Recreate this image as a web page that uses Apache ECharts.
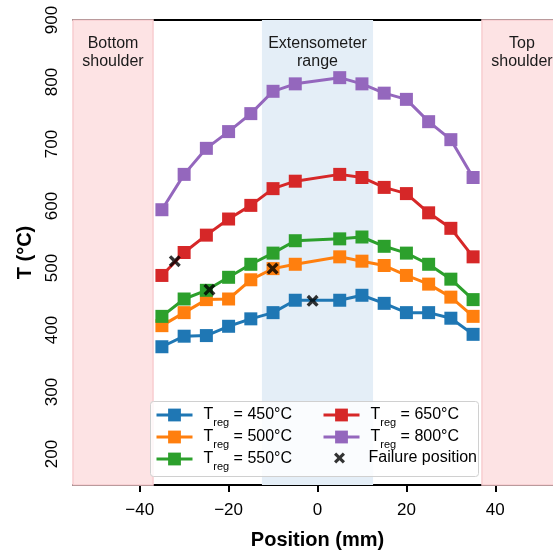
<!DOCTYPE html>
<html><head><meta charset="utf-8">
<script src="https://cdn.jsdelivr.net/npm/echarts@6/dist/echarts.min.js"></script>
<style>html,body{margin:0;padding:0;background:#fff}#c{width:553px;height:556px}</style>
</head><body><div id="c"></div>
<script>
const positions = [-35,-30,-25,-20,-15,-10,-5,5,10,15,20,25,30,35];
const t450 = [373,390,391,406,418,428,448,448,456,443,428,428,419,393];
const t500 = [407,428,449,450,481,499,506,518,511,504,488,474,453,422];
const t550 = [422,450,464,485,506,524,544,547,550,535,524,506,482,449];
const t650 = [488,525,553,579,601,628,640,651,646,630,620,589,564,518];
const t800 = [594,651,693,720,749,785,797,807,797,782,772,736,707,646];
const failureX = [-32.1,-24.3,-10.1,-1.1];
const failureT = [511,465,499,447];
const regTemps = ['450','500','550','650','800'];
const colors = ['#1f77b4','#ff7f0e','#2ca02c','#d62728','#9467bd'];
const xTicks = [-40,-20,0,20,40];
const yTicks = [200,300,400,500,600,700,800,900];
const shoulderBottom = [-55,-37];
const extRange = [-12.5,12.5];
const shoulderTop = [37,55];

const FONT = 'Liberation Sans, Arial, sans-serif';
const allT = [t450,t500,t550,t650,t800];
const names = regTemps.map(t => 'T_reg = ' + t + '°C');
const FAIL = 'Failure position';
const xPath = 'path://M0,2 L2,0 L5,3 L8,0 L10,2 L7,5 L10,8 L8,10 L5,7 L2,10 L0,8 L3,5 Z';

const series = allT.map((arr, i) => ({
  name: names[i], type: 'line', data: positions.map((x, j) => [x, arr[j]]),
  symbol: 'rect', symbolSize: 13, color: colors[i],
  lineStyle: {width: 3, color: colors[i]}, itemStyle: {color: colors[i]}, z: 3
}));
const regLabel = txt => ({show: true, position: 'insideTop', distance: 15, formatter: txt,
  fontSize: 16, lineHeight: 18, color: '#1a1a1a', fontFamily: FONT});
series[0].markArea = {
  silent: true, z: 1,
  data: [
    [{xAxis: shoulderBottom[0], itemStyle: {color: '#fde3e4', borderColor: '#f8cdd0', borderWidth: 1.5},
      label: regLabel('Bottom\nshoulder')}, {xAxis: shoulderBottom[1]}],
    [{xAxis: extRange[0], itemStyle: {color: '#e4eef7'},
      label: regLabel('Extensometer\nrange')}, {xAxis: extRange[1]}],
    [{xAxis: shoulderTop[0], itemStyle: {color: '#fde3e4', borderColor: '#f8cdd0', borderWidth: 1.5},
      label: regLabel('Top\nshoulder')}, {xAxis: shoulderTop[1]}]
  ]
};
series.push({
  name: FAIL, type: 'scatter', data: failureX.map((x, i) => [x, failureT[i]]),
  symbol: xPath, symbolSize: 12, itemStyle: {color: '#000'}, z: 5
});

const legendFmt = name => {
  if (name === FAIL) return '{g|}{a|' + name + '}';
  const t = name.replace('T_reg = ', '');
  return '{g|}{a|T}{s|reg}{a| = ' + t + '}';
};
const legendCommon = {
  orient: 'vertical', itemWidth: 36, itemHeight: 16, itemGap: 1, padding: 0, z: 10,
  formatter: legendFmt, selectedMode: false,
  lineStyle: {width: 3},
  textStyle: {fontFamily: FONT, color: '#000', rich: {
    g: {width: 6, lineHeight: 26},
    a: {fontSize: 16, fontFamily: FONT, color: '#000', lineHeight: 26},
    s: {fontSize: 11, fontFamily: FONT, color: '#000', lineHeight: 11, verticalAlign: 'bottom'}
  }}
};

const chart = echarts.init(document.getElementById('c'));
chart.setOption({
  animation: false,
  grid: {left: 73, width: 489, top: 20, bottom: 71, outerBoundsMode: 'none', containLabel: false},
  xAxis: [{
    type: 'value', min: -55, max: 55,
    name: 'Position (mm)', nameLocation: 'middle', nameGap: 45,
    nameTextStyle: {fontFamily: FONT, fontSize: 20, fontWeight: 'bold', color: '#000'},
    axisLine: {lineStyle: {color: '#000', width: 2}},
    axisTick: {show: true, length: 7, lineStyle: {width: 2, color: '#000'}, customValues: xTicks},
    axisLabel: {fontFamily: FONT, fontSize: 17, color: '#000', margin: 17, customValues: xTicks,
      formatter: v => v < 0 ? '\u2212' + Math.abs(v) : String(v)},
    splitLine: {show: false}
  }, {
    type: 'value', position: 'top', min: -55, max: 55,
    axisLine: {show: true, lineStyle: {color: '#000', width: 2}},
    axisTick: {show: false}, axisLabel: {show: false}, splitLine: {show: false}
  }],
  yAxis: {
    type: 'value', min: 150, max: 900,
    name: 'T (°C)', nameLocation: 'middle', nameGap: 38,
    nameTextStyle: {fontFamily: FONT, fontSize: 20, fontWeight: 'bold', color: '#000'},
    axisLine: {show: true, lineStyle: {color: '#000', width: 2}},
    axisTick: {show: true, length: 7, lineStyle: {width: 2, color: '#000'}, customValues: yTicks},
    axisLabel: {fontFamily: FONT, fontSize: 17, color: '#000', rotate: 90, margin: 12, customValues: yTicks},
    splitLine: {show: false}
  },
  graphic: [{
    type: 'rect', left: 150, top: 401, z: 8,
    shape: {width: 328, height: 75, r: 3},
    style: {fill: 'rgba(255,255,255,0.82)', stroke: '#d0d0d0', lineWidth: 1}
  }],
  legend: [
    Object.assign({}, legendCommon, {left: 155, top: 407, data: names.slice(0, 3)}),
    Object.assign({}, legendCommon, {left: 322, top: 407, data: [names[3], names[4]]}),
    Object.assign({}, legendCommon, {left: 334, top: 450, itemHeight: 11, data: [FAIL]})
  ],
  series: series
});
</script></body></html>
